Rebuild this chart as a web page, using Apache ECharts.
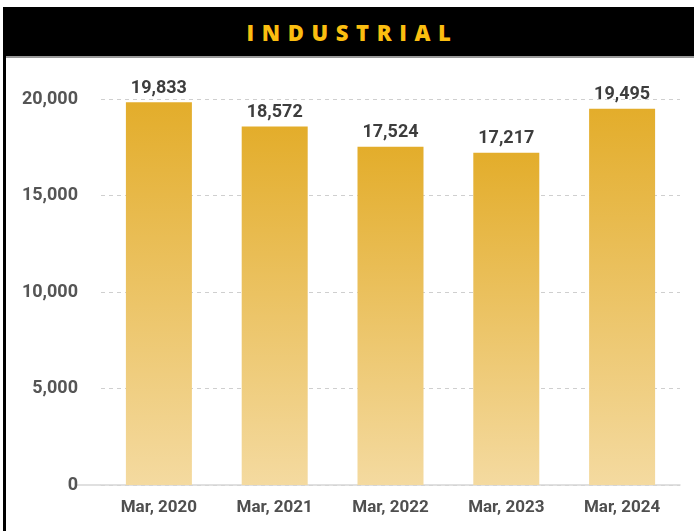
<!DOCTYPE html>
<html>
<head>
<meta charset="utf-8">
<script src="https://cdn.jsdelivr.net/npm/echarts@6/dist/echarts.min.js"></script>
<style>
  html, body { margin: 0; padding: 0; background: #fff; }
  #wrap { position: relative; width: 694px; height: 531px; overflow: hidden; }
  #band {
    position: absolute; left: 3px; top: 7px; width: 691px; height: 49px;
    background: #000; color: #FBBE10;
    font-family: "Open Sans", "Noto Sans", sans-serif; font-weight: 800;
    font-size: 22px; letter-spacing: 7.6px; text-align: center; line-height: 51px;
    text-indent: 8px;
  }
  #rule { position: absolute; left: 3px; top: 56px; width: 691px; height: 2px; background: #9a9a9a; }
  #side { position: absolute; left: 3px; top: 56px; width: 3px; height: 475px; background: #000; }
  #chart { position: absolute; left: 0; top: 0; width: 694px; height: 531px; }
</style>
</head>
<body>
<div id="wrap">
  <div id="chart"></div>
  <div id="band">INDUSTRIAL</div>
  <div id="rule"></div>
  <div id="side"></div>
</div>
<script>
// Industrial totals by March of each year
const categories = ['Mar, 2020', 'Mar, 2021', 'Mar, 2022', 'Mar, 2023', 'Mar, 2024'];
const values = [19833, 18572, 17524, 17217, 19495];
const yTicks = [0, 5000, 10000, 15000, 20000];

const chart = echarts.init(document.getElementById('chart'), null, { renderer: 'canvas' });

const fmt = v => v.toLocaleString('en-US');

chart.setOption({
  animation: false,
  grid: { left: 101, right: 14, top: 99, bottom: 46, containLabel: false },
  xAxis: {
    type: 'category',
    data: categories,
    axisLine: { show: true, lineStyle: { color: '#d6d6d6', width: 1.5 } },
    axisTick: { show: false },
    axisLabel: {
      color: '#4f4f4f', fontFamily: 'Roboto', fontWeight: 'bold', fontSize: 17,
      margin: 14
    }
  },
  yAxis: {
    type: 'value',
    min: yTicks[0],
    max: yTicks[yTicks.length - 1],
    interval: 5000,
    axisLine: { show: false },
    axisTick: { show: false },
    splitLine: { lineStyle: { color: '#cfcfcf', type: [4, 4], width: 1 } },
    axisLabel: {
      color: '#555555', fontFamily: 'Roboto', fontWeight: 'bold', fontSize: 18,
      margin: 23,
      formatter: v => fmt(v)
    }
  },
  series: [{
    type: 'bar',
    data: values,
    barWidth: 66,
    itemStyle: {
      color: new echarts.graphic.LinearGradient(0, 0, 0, 1, [
        { offset: 0, color: '#E3AD2B' },
        { offset: 1, color: '#F4DAA0' }
      ])
    },
    label: {
      show: true, position: 'top', distance: 5,
      color: '#3d3d3d', fontFamily: 'Roboto', fontWeight: 'bold', fontSize: 18,
      formatter: p => fmt(p.value)
    }
  }]
});

// extend the baseline a little to the left of the plot area
const base = chart.convertToPixel({ gridIndex: 0 }, [0, 0]);
const left = chart.getModel().getComponent('grid').coordinateSystem.getRect().x;
chart.setOption({
  graphic: [{
    type: 'line', silent: true,
    shape: { x1: left - 25, y1: base[1], x2: left, y2: base[1] },
    style: { stroke: '#d6d6d6', lineWidth: 1.5 }
  }]
});
</script>
</body>
</html>
